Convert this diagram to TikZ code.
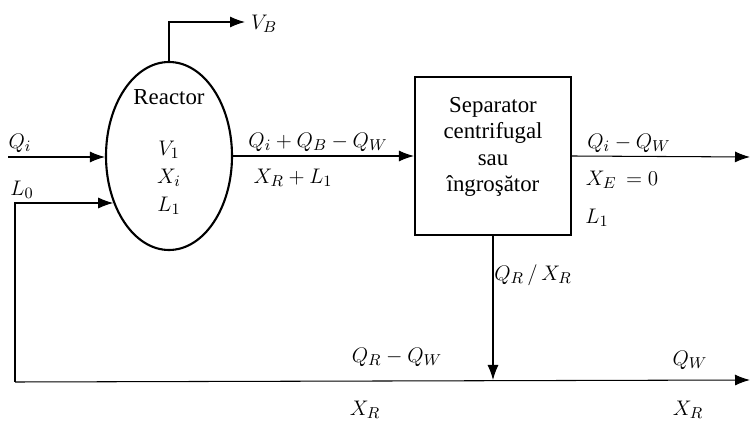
\documentclass[tikz,border=0pt]{standalone}
\usepackage{amsmath}
\usepackage{fontspec}
\setmainfont{Liberation Serif}
\usetikzlibrary{arrows.meta,shapes.geometric,positioning}
\tikzset{
  >={Latex[length=3mm,width=2.2mm]},
  line cap=round,
  line join=round,
  flow/.style={->, line width=0.6pt},
  lbl/.style={inner sep=0pt, font=\fontsize{13}{15}\selectfont},
  reactorshape/.style={draw, ellipse, line width=1.2pt, minimum width=2.52cm, minimum height=3.76cm},
  sepbox/.style={draw, line width=1.2pt, minimum width=3.12cm, minimum height=3.16cm}
}
\begin{document}
\begin{tikzpicture}[x=0.2mm, y=-0.2mm]
	\useasboundingbox (0,0) rectangle (750,421);

	% Reactor and separator
	\node[reactorshape] (reactor) at (169,156) {};
	\node[sepbox] (sep) at (493,156) {};

	% Text inside the units
	\node[lbl] (rname) at (169,97) {Reactor};
	\node[lbl, align=center] (rvars) at (169,178) {$V_1$\\[1pt]$X_i$\\[1pt]$L_1$};
	\node[lbl, align=center] (sname) at (493,147) {Separator\\centrifugal\\sau\\îngroşător};

	% Points
	\coordinate (qin) at (8,157);
	\coordinate (ret) at (15,203);
	\coordinate (botleft) at (15,382);
	\coordinate (vbturn) at (169,22);
	\coordinate (vbout) at (245,22);
	\coordinate (eout) at (750,157);
	\coordinate (wout) at (750,380);

	% Streams
	\draw[flow] (qin) -- (qin -| reactor.west);
	\draw[flow] (botleft) -- (ret) -- (ret -| reactor.220);
	\draw[flow] (reactor.north) -- (vbturn) -- (vbout);
	\draw[flow] (reactor.east) -- (sep.west);
	\draw[flow] (sep.east) -- (eout);
	\draw[flow] (botleft) -- (wout);
	\draw[flow] (sep.south) -- (sep.south |- wout);

	% Labels
	\node[lbl] (lqi) at (20,143) {$Q_i$};
	\node[lbl] (llo) at (22,190) {$L_0$};
	\node[lbl] (lvb) at (264,24) {$V_B$};
	\node[lbl] (lmid) at (318,142) {$Q_i + Q_B - Q_W$};
	\node[lbl] (lmidx) at (293,178) {$X_R + L_1$};
	\node[lbl] (lout) at (629,143) {$Q_i - Q_W$};
	\node[lbl] (loutx) at (622,180) {$X_E\, = 0$};
	\node[lbl] (loutl) at (597,218) {$L_1$};
	\node[lbl] (lrec) at (533,275) {$Q_R\,/\,X_R$};
	\node[lbl] (lret) at (397,357) {$Q_R - Q_W$};
	\node[lbl] (lretx) at (365,410) {$X_R$};
	\node[lbl] (lw) at (690,360) {$Q_W$};
	\node[lbl] (lwx) at (688,410) {$X_R$};
\end{tikzpicture}
\end{document}
